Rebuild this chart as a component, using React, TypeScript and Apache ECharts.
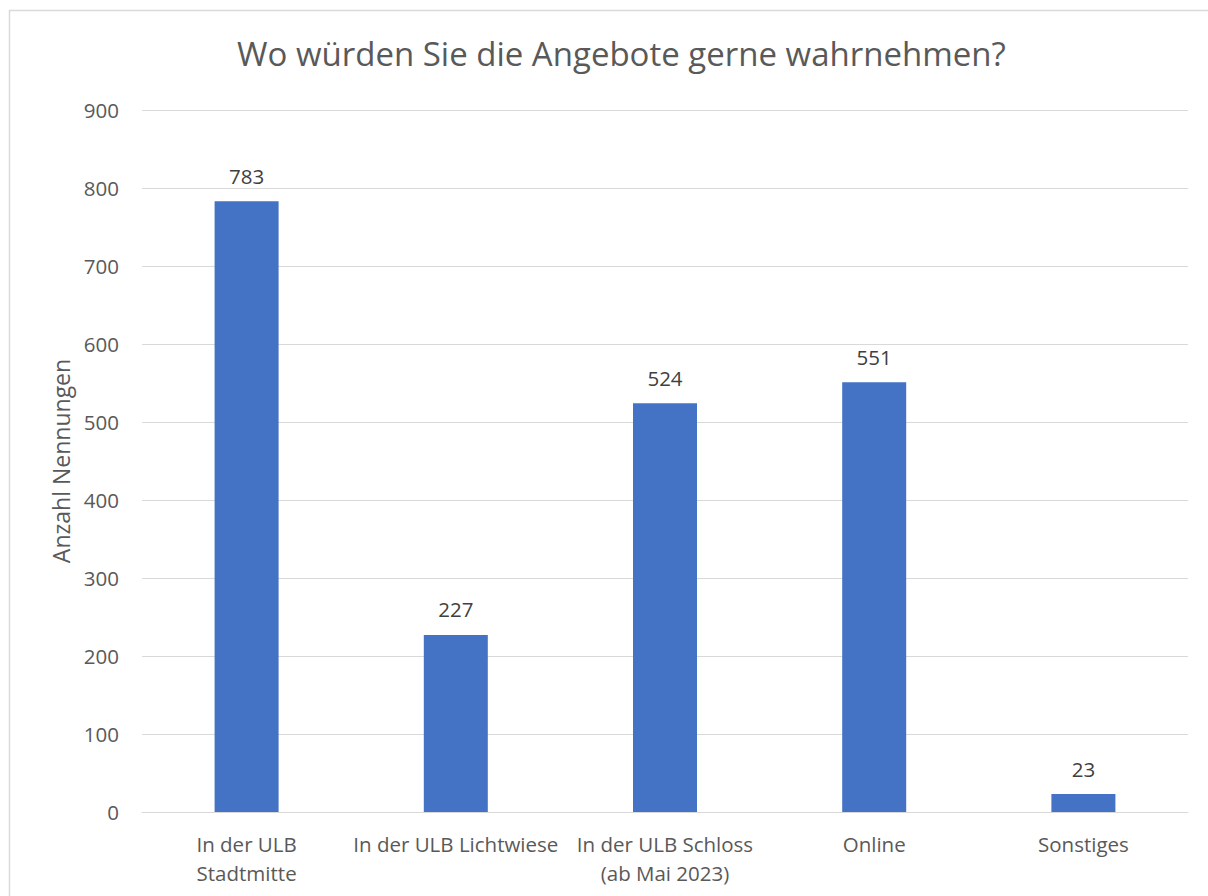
import React, { useEffect, useRef } from "react";
import * as echarts from "echarts";

const categories = [
  "In der ULB\nStadtmitte",
  "In der ULB Lichtwiese",
  "In der ULB Schloss\n(ab Mai 2023)",
  "Online",
  "Sonstiges",
];
const values = [783, 227, 524, 551, 23];
const yTicks = { min: 0, max: 900, interval: 100 };
const titleText = "Wo würden Sie die Angebote gerne wahrnehmen?";
const yAxisName = "Anzahl Nennungen";

const FONT = "'Open Sans', sans-serif";

export default function App() {
  const ref = useRef<HTMLDivElement>(null);
  useEffect(() => {
    const chart = echarts.init(ref.current!, null, { renderer: "svg" });
    chart.setOption({
      animation: false,
      backgroundColor: "#ffffff",
      title: {
        text: titleText,
        left: 232,
        top: 32,
        textStyle: { fontFamily: FONT, fontSize: 33, fontWeight: "normal", color: "#595959" },
      },
      grid: { left: 142, right: 20, top: 110, bottom: 84, containLabel: false },
      xAxis: {
        type: "category",
        data: categories,
        axisLine: { show: true, lineStyle: { color: "#d9d9d9", width: 1 } },
        axisTick: { show: false },
        axisLabel: {
          fontFamily: FONT,
          fontSize: 20.5,
          color: "#595959",
          lineHeight: 29,
          margin: 17,
          interval: 0,
        },
      },
      yAxis: {
        type: "value",
        min: yTicks.min,
        max: yTicks.max,
        interval: yTicks.interval,
        name: yAxisName,
        nameLocation: "middle",
        nameGap: 70,
        nameRotate: 90,
        nameTextStyle: { fontFamily: FONT, fontSize: 23, color: "#595959" },
        axisLine: { show: false },
        axisTick: { show: false },
        splitLine: { lineStyle: { color: "#d9d9d9", width: 1 } },
        axisLabel: { fontFamily: FONT, fontSize: 20.5, color: "#595959", margin: 23 },
      },
      series: [
        {
          type: "bar",
          data: values,
          barWidth: 64,
          itemStyle: { color: "#4472c4" },
          label: {
            show: true,
            position: "top",
            distance: 15,
            fontFamily: FONT,
            fontSize: 20.5,
            color: "#404040",
          },
        },
      ],
      graphic: [
        {
          type: "rect",
          shape: { x: 9.5, y: 10.5, width: 1220, height: 900 },
          style: { fill: "none", stroke: "#d9d9d9", lineWidth: 1.5 },
          silent: true,
        },
      ],
    });
    return () => chart.dispose();
  }, []);
  return (
    <div
      ref={ref}
      style={{ position: "absolute", left: 0, top: 0, width: 1208, height: 896 }}
    />
  );
}
